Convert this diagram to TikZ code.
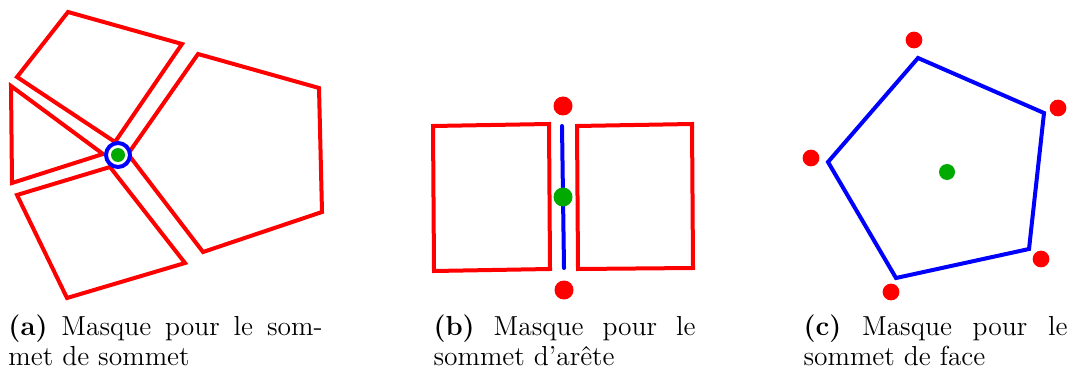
\documentclass[tikz,border=0pt]{standalone}
\usepackage{xcolor}
\usetikzlibrary{positioning, calc}
\definecolor{vertpt}{RGB}{0,170,0}

\begin{document}
\begin{tikzpicture}[
    x=0.4pt, y=-0.4pt,
    facette/.style = {draw=red, line width=1.6pt, line join=miter},
    arete/.style = {draw=blue, line width=1.6pt, line cap=round},
    ptrouge/.style = {circle, fill=red, inner sep=0pt, minimum size=#1},
    ptvert/.style = {circle, fill=vertpt, inner sep=0pt, minimum size=#1},
    legende/.style = {anchor=base west, inner sep=0pt, align=justify, text width=#1, font=\fontsize{11}{12}\selectfont}
]
\useasboundingbox (0,0) rectangle (1070,372);

% (a) Masque pour le sommet de sommet
\draw [facette] (68,12) -- (182,44) -- (115,142) -- (17,77) -- cycle;
\draw [facette] (11,86) -- (103,154) -- (12,183) -- cycle;
\draw [facette] (17,195) -- (110,167) -- (185,263) -- (67,298) -- cycle;
\draw [facette] (198,54) -- (319,88) -- (322,212) -- (203,252) -- (128,154) -- cycle;
\node (pivot) [circle, draw=blue, fill=white, line width=1.6pt, inner sep=0pt, minimum size=9.6pt] at (118,155) {};
\node (sa) [ptvert=5.6pt] at (pivot.center) {};

% (b) Masque pour le sommet d'arete
\draw [facette] (433,126) -- (549,124) -- (550,269) -- (434,271) -- cycle;
\draw [facette] (577,126) -- (692,124) -- (693,268) -- (578,269) -- cycle;
\coordinate (bh) at (562,126);
\coordinate (bb) at (564,268);
\draw [arete] (bh) -- (bb);
\node (sb) [ptvert=7.6pt] at ($(bh)!0.5!(bb)$) {};
\node (rb1) [ptrouge=7.6pt] at (563,106) {};
\node (rb2) [ptrouge=7.6pt] at (564,290) {};

% (c) Masque pour le sommet de face
\draw [arete, line cap=butt, line join=miter] (918,58) -- (1044,113) -- (1029,249) -- (896,278) -- (828,162) -- cycle;
\node (sc) [ptvert=6.4pt] at (947,172) {};
\foreach \px/\py [count=\i] in {914/40, 1058/108, 1041/259, 891/292, 811/158}
  \node (rc\i) [ptrouge=6.7pt] at (\px,\py) {};

% Legendes
\node (lega) [legende=125.6pt] at (8,335) {\textbf{(a)} Masque pour le som-\linebreak met de sommet};
\node (legb) [legende=104.8pt] at (433,335) {\textbf{(b)} Masque pour le\linebreak sommet d'arête};
\node (legc) [legende=105.6pt] at (803,335) {\textbf{(c)} Masque pour le\linebreak sommet de face};

\end{tikzpicture}
\end{document}
